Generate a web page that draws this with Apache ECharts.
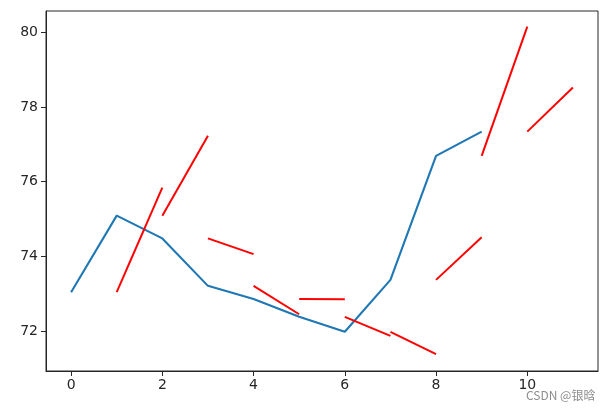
<!DOCTYPE html>
<html>
<head>
<meta charset="utf-8">
<script src="https://cdn.jsdelivr.net/npm/echarts@6/dist/echarts.min.js"></script>
<style>html,body{margin:0;padding:0;background:#fff;}#c{width:608px;height:410px;}</style>
</head>
<body>
<div id="c"></div>
<script>
// Actual series (blue), x = 0..9
var actualX = [0, 1, 2, 3, 4, 5, 6, 7, 8, 9];
var actualY = [73.04, 75.09, 74.48, 73.21, 72.86, 72.38, 71.98, 73.37, 76.69, 77.34];
// Red prediction segments: from (segStartX, segStartY) to (segStartX+1, segEndY)
var segStartX = [1, 2, 3, 4, 5, 6, 7, 8, 9, 10];
var segStartY = [73.04, 75.09, 74.48, 73.21, 72.86, 72.38, 71.98, 73.37, 76.69, 77.34];
var segEndY = [75.84, 77.23, 74.06, 72.45, 72.85, 71.87, 71.38, 74.51, 80.15, 78.52];
// Tick labels
var xTicks = [0, 2, 4, 6, 8, 10];
var yTicks = [72, 74, 76, 78, 80];

var chart = echarts.init(document.getElementById('c'), null, {renderer: 'canvas'});
var series = [];
series.push({
  type: 'line',
  data: actualX.map(function (x, i) { return [x, actualY[i]]; }),
  showSymbol: false,
  lineStyle: {color: '#1f77b4', width: 2.1},
  z: 2,
  animation: false
});
for (var i = 0; i < segStartX.length; i++) {
  series.push({
    type: 'line',
    data: [[segStartX[i], segStartY[i]], [segStartX[i] + 1, segEndY[i]]],
    showSymbol: false,
    lineStyle: {color: '#ff0000', width: 2},
    z: 3,
    animation: false
  });
}
var labelFont = {color: '#262626', fontSize: 14, fontFamily: 'DejaVu Sans'};
chart.setOption({
  animation: false,
  grid: {left: 46, top: 11, width: 552, height: 360, show: true, borderColor: '#262626', borderWidth: 1, backgroundColor: 'transparent'},
  xAxis: {
    type: 'value', min: -0.55, max: 11.55,
    axisLine: {show: true, onZero: false, lineStyle: {color: '#262626', width: 1}},
    axisTick: {show: true, length: 5, customValues: xTicks, lineStyle: {color: '#262626'}},
    axisLabel: Object.assign({customValues: xTicks, margin: 7, showMinLabel: true, showMaxLabel: true}, labelFont),
    splitLine: {show: false}
  },
  yAxis: {
    type: 'value', min: 70.93, max: 80.57,
    axisLine: {show: true, onZero: false, lineStyle: {color: '#262626', width: 1}},
    axisTick: {show: true, length: 5, customValues: yTicks, lineStyle: {color: '#262626'}},
    axisLabel: Object.assign({customValues: yTicks, margin: 8}, labelFont),
    splitLine: {show: false}
  },
  graphic: [{
    type: 'text', left: 526, top: 389,
    style: {text: 'CSDN @银晗', fill: 'rgba(120,120,120,0.85)', fontSize: 12, fontFamily: 'Noto Sans CJK SC'},
    z: 10
  }],
  series: series
});
</script>
</body>
</html>
